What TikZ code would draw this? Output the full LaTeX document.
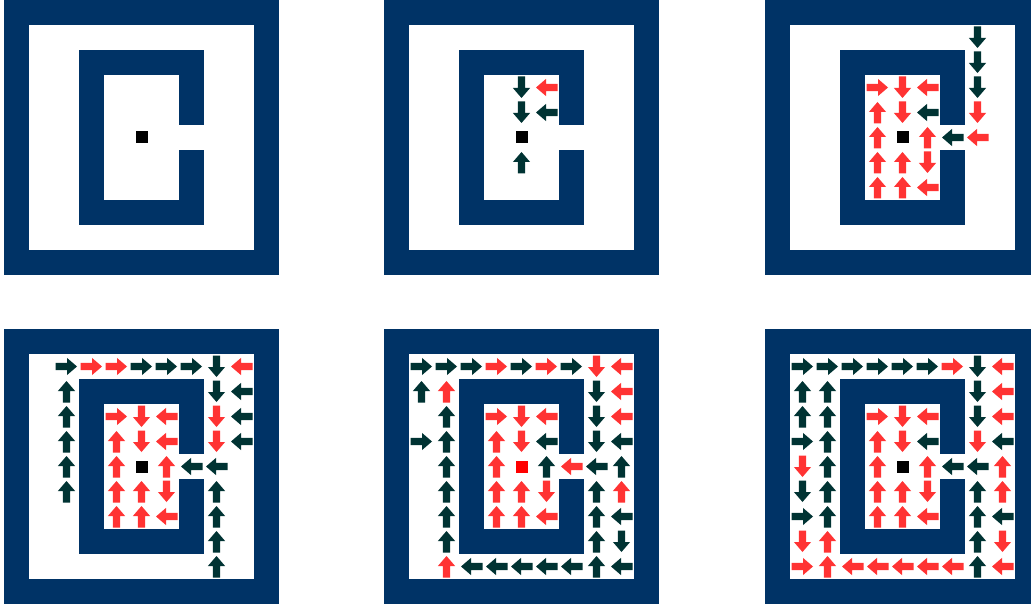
\documentclass[tikz,border=0pt]{standalone}
\usepackage{tikz}
\definecolor{navy}{HTML}{003366}
\definecolor{ad}{HTML}{003333}
\definecolor{ar}{HTML}{FF3333}
\definecolor{goalred}{HTML}{FF0000}
\tikzset{
  wall/.style={fill=navy},
  floor/.style={fill=white},
}
\newcommand{\mazepanel}[3]{% x0, y0, goal colour
  \fill[wall] (#1,#2) rectangle ++(275,275);
  \fill[floor] (#1+25,#2+25) rectangle ++(225,225);
  \fill[wall] (#1+75,#2+50) rectangle ++(125,175);
  \fill[floor] (#1+100,#2+75) rectangle ++(75,125);
  \fill[floor] (#1+175,#2+125) rectangle ++(25,25);
  \fill[#3] (#1+131.5,#2+131.5) rectangle ++(12,12);
}
\newcommand{\mazearrows}[3]{% x0, y0, list col/row/angle/colour
  \foreach \c/\r/\a/\k in {#3} {
    \fill[\k, shift={(#1+\c*25+12.5,#2+\r*25+12.5)}, rotate=\a]
      (-11,-3.6) -- (0.5,-3.6) -- (0.5,-8.6) -- (10.5,0) -- (0.5,8.6) -- (0.5,3.6) -- (-11,3.6) -- cycle;
  }
}
\begin{document}
\begin{tikzpicture}[x=1pt,y=-1pt]
\useasboundingbox[fill=white] (0,0) rectangle (1031,604);
% panels
\mazepanel{4}{0}{black}
\mazepanel{384}{0}{black}
\mazepanel{765}{0}{black}
\mazepanel{4}{329}{black}
\mazepanel{384}{329}{goalred}
\mazepanel{765}{329}{black}
% panel 2
\mazearrows{384}{0}{5/3/270/ad, 6/3/180/ar, 5/4/270/ad, 6/4/180/ad, 5/6/90/ad}
% panel 3
\mazearrows{765}{0}{8/1/270/ad, 8/2/270/ad, 8/3/270/ad, 8/4/270/ar, 8/5/180/ar, 7/5/180/ad,
  4/3/0/ar, 5/3/270/ar, 6/3/180/ar,
  4/4/90/ar, 5/4/270/ar, 6/4/180/ad,
  4/5/90/ar, 6/5/90/ar,
  4/6/90/ar, 5/6/90/ar, 6/6/270/ar,
  4/7/90/ar, 5/7/90/ar, 6/7/180/ar}
% panel 4
\mazearrows{4}{329}{2/1/0/ad, 3/1/0/ar, 4/1/0/ar, 5/1/0/ad, 6/1/0/ad, 7/1/0/ad, 8/1/270/ad, 9/1/180/ar,
  2/2/90/ad, 8/2/270/ad, 9/2/180/ad,
  2/3/90/ad, 4/3/0/ar, 5/3/270/ar, 6/3/180/ar, 8/3/270/ar, 9/3/180/ad,
  2/4/90/ad, 4/4/90/ar, 5/4/270/ar, 6/4/180/ar, 8/4/270/ar, 9/4/180/ad,
  2/5/90/ad, 4/5/90/ar, 6/5/90/ar, 7/5/180/ad, 8/5/180/ad,
  2/6/90/ad, 4/6/90/ar, 5/6/90/ar, 6/6/270/ar, 8/6/90/ad,
  4/7/90/ar, 5/7/90/ar, 6/7/180/ar, 8/7/90/ad,
  8/8/90/ad,
  8/9/90/ad}
% panel 5
\mazearrows{384}{329}{1/1/0/ad, 2/1/0/ad, 3/1/0/ad, 4/1/0/ar, 5/1/0/ad, 6/1/0/ar, 7/1/0/ad, 8/1/270/ar, 9/1/180/ar,
  1/2/90/ad, 2/2/90/ar, 8/2/270/ad, 9/2/180/ar,
  2/3/90/ad, 4/3/0/ar, 5/3/270/ar, 6/3/180/ar, 8/3/270/ad, 9/3/180/ar,
  1/4/0/ad, 2/4/90/ad, 4/4/90/ar, 5/4/270/ar, 6/4/180/ad, 8/4/270/ad, 9/4/180/ad,
  2/5/90/ad, 4/5/90/ar, 6/5/90/ad, 7/5/180/ar, 8/5/180/ad, 9/5/90/ad,
  2/6/90/ad, 4/6/90/ar, 5/6/90/ar, 6/6/270/ar, 8/6/90/ad, 9/6/90/ar,
  2/7/90/ad, 4/7/90/ar, 5/7/90/ar, 6/7/180/ar, 8/7/90/ad, 9/7/180/ad,
  2/8/90/ad, 8/8/90/ad, 9/8/270/ad,
  2/9/90/ar, 3/9/180/ad, 4/9/180/ad, 5/9/180/ad, 6/9/180/ad, 7/9/180/ad, 8/9/90/ad, 9/9/180/ad}
% panel 6
\mazearrows{765}{329}{1/1/0/ad, 2/1/0/ad, 3/1/0/ad, 4/1/0/ad, 5/1/0/ad, 6/1/0/ad, 7/1/0/ar, 8/1/270/ad, 9/1/180/ar,
  1/2/90/ad, 2/2/90/ad, 8/2/270/ad, 9/2/180/ar,
  1/3/90/ad, 2/3/90/ad, 4/3/0/ar, 5/3/270/ar, 6/3/180/ar, 8/3/270/ad, 9/3/180/ar,
  1/4/0/ad, 2/4/90/ad, 4/4/90/ar, 5/4/270/ar, 6/4/180/ad, 8/4/270/ar, 9/4/180/ad,
  1/5/270/ar, 2/5/90/ad, 4/5/90/ar, 6/5/90/ar, 7/5/180/ad, 8/5/180/ad, 9/5/90/ar,
  1/6/270/ad, 2/6/90/ad, 4/6/90/ar, 5/6/90/ar, 6/6/270/ar, 8/6/90/ad, 9/6/90/ar,
  1/7/0/ad, 2/7/90/ad, 4/7/90/ar, 5/7/90/ar, 6/7/180/ar, 8/7/90/ad, 9/7/180/ad,
  1/8/270/ar, 2/8/90/ar, 8/8/90/ad, 9/8/270/ar,
  1/9/0/ar, 2/9/90/ar, 3/9/180/ar, 4/9/180/ar, 5/9/180/ar, 6/9/180/ar, 7/9/180/ar, 8/9/90/ad, 9/9/180/ar}
\end{tikzpicture}
\end{document}
